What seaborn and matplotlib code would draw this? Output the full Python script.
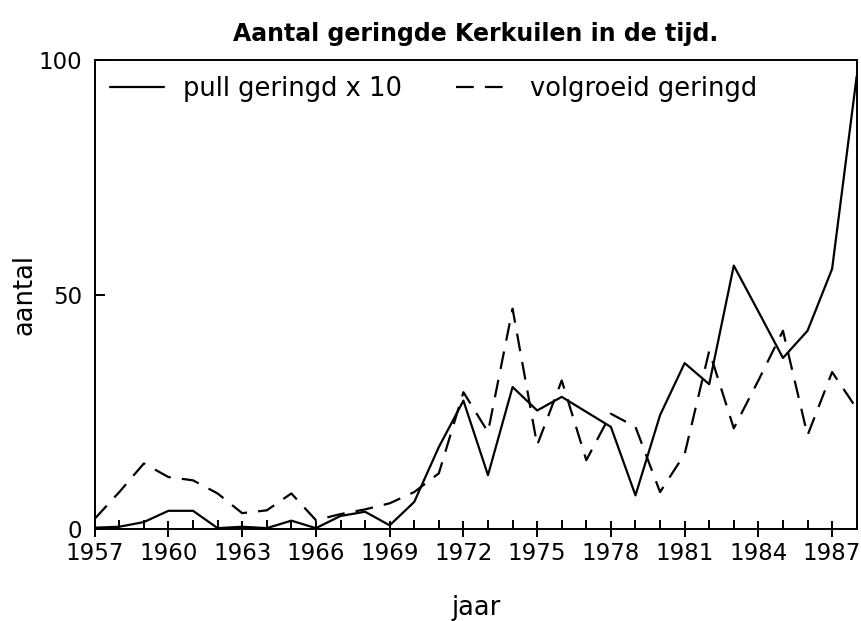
"""
Aantal geringde Kerkuilen in de tijd (1957-1988).
Nabouw van een oude grafiek: pulli (x 10) en volgroeide uilen.
"""

import matplotlib
matplotlib.use("Agg")
import matplotlib.pyplot as plt
from matplotlib.ticker import MultipleLocator
import pandas as pd
import seaborn as sns

YEARS = list(range(1957, 1989))
PULL_X10 = [0.3, 0.5, 1.5, 3.9, 3.9, 0.2, 0.5, 0.2, 1.8, 0.2, 2.8, 3.7,
            0.8, 5.8, 17.5, 27.4, 11.5, 30.3, 25.3, 28.2, 25.0, 21.8,
            7.2, 24.3, 35.4, 30.9, 56.2, 46.4, 36.5, 42.3, 55.5, 96.6]
VOLGROEID = [2.2, 7.9, 14.0, 11.1, 10.4, 7.6, 3.4, 4.0, 7.6, 1.9, 3.2, 4.2,
             5.5, 7.9, 11.9, 29.2, 20.7, 47.0, 17.9, 31.7, 14.7, 24.6,
             21.8, 7.9, 16.0, 38.0, 21.5, 31.7, 42.3, 20.0, 33.5, 25.7]
SERIES_LABELS = ["pull geringd x 10", "volgroeid geringd"]
YTICKS = [0, 50, 100]

TITLE = "Aantal geringde Kerkuilen in de tijd."
XLABEL = "jaar"
YLABEL = "aantal"


def main():
    sns.set_theme(style="ticks", rc={
        "text.color": "black", "axes.labelcolor": "black",
        "xtick.color": "black", "ytick.color": "black",
        "axes.edgecolor": "black",
    })
    plt.rcParams["font.family"] = ["DejaVu Sans"]

    df = pd.DataFrame({"jaar": YEARS, "pull": PULL_X10, "volgroeid": VOLGROEID})

    fig = plt.figure(figsize=(8.61, 6.21), dpi=100)
    ax = fig.add_axes([0.110, 0.148, 0.885, 0.755])

    sns.lineplot(data=df, x="jaar", y="pull", ax=ax, color="black",
                 linewidth=1.6, label=SERIES_LABELS[0])
    sns.lineplot(data=df, x="jaar", y="volgroeid", ax=ax, color="black",
                 linewidth=1.6, label=SERIES_LABELS[1])
    ax.lines[1].set_dashes((8, 5))

    ax.set_xlim(1957, 1988)
    ax.set_ylim(0, 100)
    ax.set_xticks(list(range(1957, 1988, 3)))
    ax.xaxis.set_minor_locator(MultipleLocator(1))
    ax.set_yticks(YTICKS)

    ax.tick_params(axis="x", which="major", direction="inout", length=12,
                   width=1.4, labelsize=16.5, pad=3, bottom=True)
    ax.tick_params(axis="x", which="minor", direction="in", length=6.5,
                   width=1.4, bottom=True)
    ax.tick_params(axis="y", which="major", direction="in", length=7,
                   width=1.4, labelsize=16.5, pad=9, left=True)

    for side in ["top", "bottom", "left", "right"]:
        ax.spines[side].set_visible(True)
        ax.spines[side].set_linewidth(1.4)

    ax.set_xlabel(XLABEL, fontsize=18.5, labelpad=22)
    ax.set_ylabel(YLABEL, fontsize=18.5, labelpad=1)
    ax.set_title(TITLE, fontsize=17, fontweight="bold", pad=14)

    leg = ax.legend(loc="upper left", ncol=2, frameon=False, fontsize=18.5,
                    handlelength=2.1, handletextpad=0.75, columnspacing=2.1,
                    borderaxespad=0.2)
    for line in leg.get_lines():
        line.set_linewidth(1.6)

    fig.savefig("out.png", dpi=100, facecolor="white")
    plt.close(fig)


if __name__ == "__main__":
    main()
